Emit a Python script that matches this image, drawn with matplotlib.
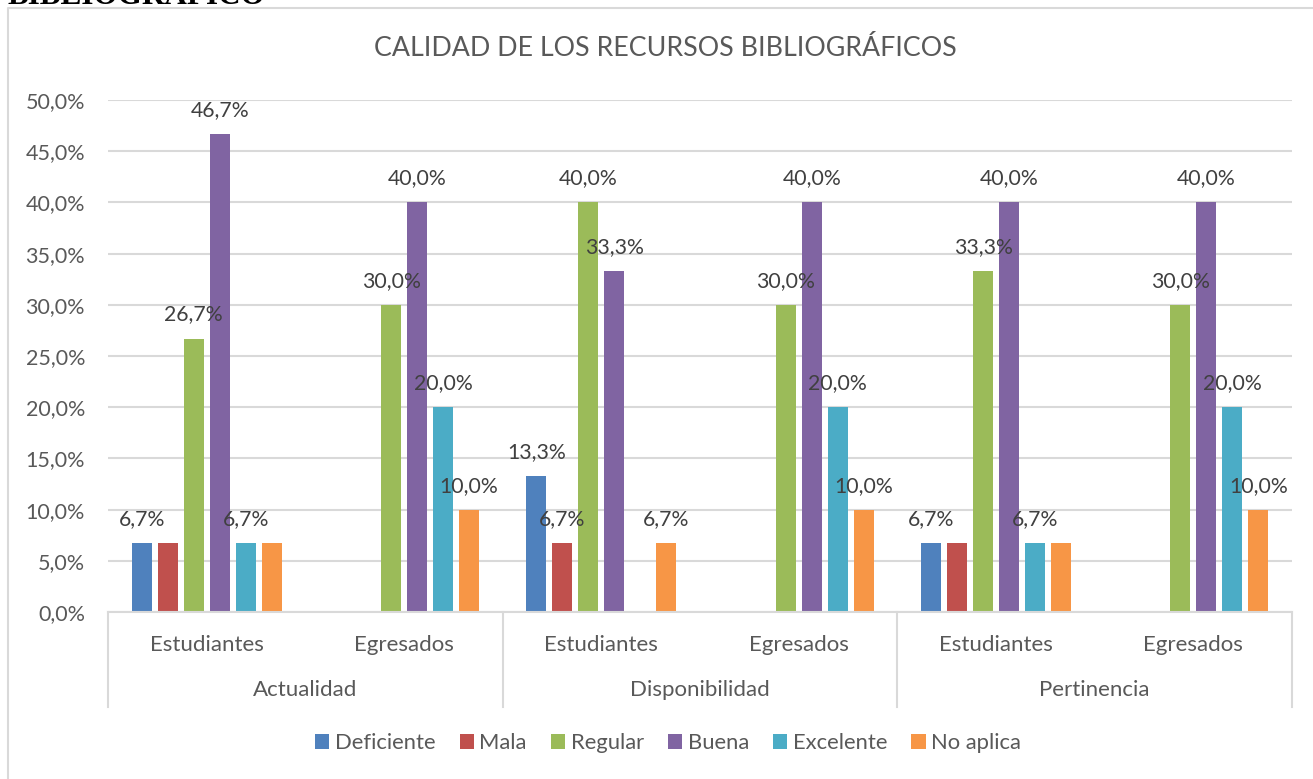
import matplotlib
matplotlib.use("Agg")
import matplotlib.pyplot as plt
from matplotlib.patches import Patch
from matplotlib.lines import Line2D
import numpy as np

# ---- data ----
groups = ["Actualidad", "Disponibilidad", "Pertinencia"]
subcats = ["Estudiantes", "Egresados"]
series = ["Deficiente", "Mala", "Regular", "Buena", "Excelente", "No aplica"]
deficiente = [6.7, 0, 13.3, 0, 6.7, 0]
mala = [6.7, 0, 6.7, 0, 6.7, 0]
regular = [26.7, 30.0, 40.0, 30.0, 33.3, 30.0]
buena = [46.7, 40.0, 33.3, 40.0, 40.0, 40.0]
excelente = [6.7, 20.0, 0, 20.0, 6.7, 20.0]
no_aplica = [6.7, 10.0, 6.7, 10.0, 6.7, 10.0]
# which data labels are visible in the original
shown_deficiente = [1, 0, 1, 0, 1, 0]
shown_mala = [0, 0, 1, 0, 0, 0]
shown_regular = [1, 1, 1, 1, 1, 1]
shown_buena = [1, 1, 1, 1, 1, 1]
shown_excelente = [1, 1, 0, 1, 1, 1]
shown_no_aplica = [0, 1, 1, 1, 0, 1]
yticks = [0, 5, 10, 15, 20, 25, 30, 35, 40, 45, 50]
title = "CALIDAD DE LOS RECURSOS BIBLIOGRÁFICOS"

values = [deficiente, mala, regular, buena, excelente, no_aplica]
shown = [shown_deficiente, shown_mala, shown_regular, shown_buena, shown_excelente, shown_no_aplica]
colors = ["#4F81BD", "#C0504D", "#9BBB59", "#8064A2", "#4BACC6", "#F79646"]

W, H = 1313, 779
plt.rcParams['font.family'] = ['Lato', 'DejaVu Sans']
fig = plt.figure(figsize=(W / 100, H / 100), dpi=100)

def fx(px):
    return px / W

def fy(py):
    return 1 - py / H

ax = fig.add_axes([fx(108), fy(612), fx(1292) - fx(108), fy(100) - fy(612)])

text_col = "#595959"
grid_col = "#D9D9D9"

n_sub = len(groups) * len(subcats)
x = np.arange(n_sub)
pitch = 26 / 197.33
width = 20 / 197.33
for i, (vals, sh, col) in enumerate(zip(values, shown, colors)):
    xpos = x + (i - 2.5) * pitch
    ax.bar(xpos, vals, width=width, color=col, zorder=3)
    for xp, v, s in zip(xpos, vals, sh):
        if s and v > 0:
            ax.annotate(f"{v:.1f}%".replace(".", ","), (xp, v), xytext=(0, 24),
                        textcoords="offset pixels", ha="center", va="center",
                        fontsize=15.3, color="#404040", zorder=4)

ax.set_xlim(-0.5, n_sub - 0.5)
ax.set_ylim(0, 50)
ax.set_yticks(yticks)
ax.set_yticklabels([f"{t:.1f}%".replace(".", ",") for t in yticks])
ax.tick_params(axis="y", length=0, pad=16.5, labelsize=15.5, labelcolor=text_col)
ax.set_xticks([])
ax.yaxis.grid(True, color=grid_col, linewidth=1.5, zorder=0)
for s in ["left", "right", "top"]:
    ax.spines[s].set_visible(False)
ax.spines["bottom"].set_color(grid_col)
ax.spines["bottom"].set_linewidth(1.5)
ax.spines["bottom"].set_zorder(5)

tr = ax.get_xaxis_transform()
ax_h = 512.0
for j in range(n_sub):
    ax.text(x[j], -(645 - 612) / ax_h, subcats[j % len(subcats)], transform=tr,
            ha="center", va="center", fontsize=16, color=text_col)
for g, name in enumerate(groups):
    cx = g * len(subcats) + (len(subcats) - 1) / 2
    ax.text(cx, -(690 - 612) / ax_h, name, transform=tr,
            ha="center", va="center", fontsize=16, color=text_col)
for b in range(len(groups) + 1):
    xb = b * len(subcats) - 0.5
    ax.plot([xb, xb], [0, -(707 - 612) / ax_h], transform=tr, color=grid_col,
            linewidth=1.5, clip_on=False)

fig.text(fx(665), fy(48), title, ha="center", va="center", fontsize=19.3, color=text_col)

handles = [Patch(facecolor=c, edgecolor="none") for c in colors]
fig.legend(handles, series, loc="center", bbox_to_anchor=(fx(668), fy(743)),
           ncol=6, frameon=False, fontsize=15.8, labelcolor=text_col,
           handlelength=0.65, handleheight=0.65, handletextpad=0.25, columnspacing=1.1)

# chart border
fig.add_artist(Line2D([fx(8), fx(8), 1], [0, fy(8), fy(8)], color=grid_col, linewidth=1.5))
# cut-off heading above the chart (as in the source page crop)
fig.text(fx(8), fy(4), "BIBLIOGRÁFICO", ha="left", va="baseline", fontsize=22.5,
         fontweight="bold", family=["Liberation Serif"], color="black")

fig.savefig("out.png", dpi=100, facecolor="white")
